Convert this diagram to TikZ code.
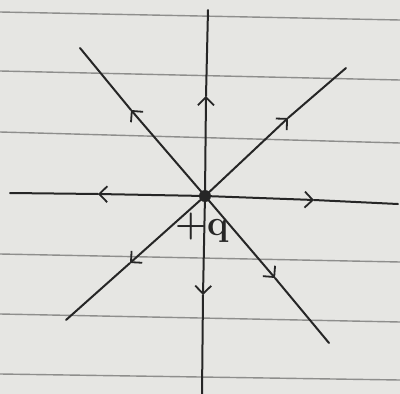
\documentclass[tikz,border=0pt]{standalone}
\usepackage{fontspec}
\usetikzlibrary{arrows.meta}
\definecolor{paper}{HTML}{E6E6E3}
\definecolor{rule}{HTML}{8E8E8C}
\definecolor{ink}{HTML}{262626}
\begin{document}
\begin{tikzpicture}[x=1pt,y=-1pt,
  paperline/.style={draw=rule,line width=1.4pt},
  field/.style={draw=ink,line width=2pt,line cap=round},
  tipped/.style={field,-{Straight Barb[length=8pt,width=16pt,line width=1.8pt]}},
  charge/.style={circle,fill=ink,inner sep=0pt,minimum size=12pt}]
\useasboundingbox (0,0) rectangle (400,394);
\fill[paper] (0,0) rectangle (400,394);
% ruled paper lines
\foreach \a/\b in {12/20,71/80,132/143,254/262,314/322,374/380}
  \draw[paperline] (0,\a) -- (400,\b);
% charge
\node[charge] (q) at (205,196) {};
\node[font=\fontsize{36}{38}\selectfont\bfseries,text=ink,inner sep=0pt] (lab) at (202,228) {+q};
% line end points
\coordinate (eL) at (10,193);
\coordinate (eR) at (398,204);
\coordinate (eU) at (208,10);
\coordinate (eD) at (202,394);
\coordinate (eNW) at (80,48);
\coordinate (eSE) at (329,343);
\coordinate (eNE) at (346,68);
\coordinate (eSW) at (66,320);
% arrow positions
\coordinate (aL) at (98,194);
\coordinate (aR) at (314,200);
\coordinate (aU) at (206,96);
\coordinate (aD) at (203,295);
\coordinate (aNW) at (131,110);
\coordinate (aSE) at (275,278);
\coordinate (aNE) at (288,118);
\coordinate (aSW) at (130,263);
% field lines: inner part with arrow, outer part plain
\foreach \a/\e in {aL/eL,aR/eR,aU/eU,aD/eD,aNW/eNW,aSE/eSE,aNE/eNE,aSW/eSW}{
  \draw[tipped] (q.center) -- (\a);
  \draw[field] (\a) -- (\e);
}
\end{tikzpicture}
\end{document}
